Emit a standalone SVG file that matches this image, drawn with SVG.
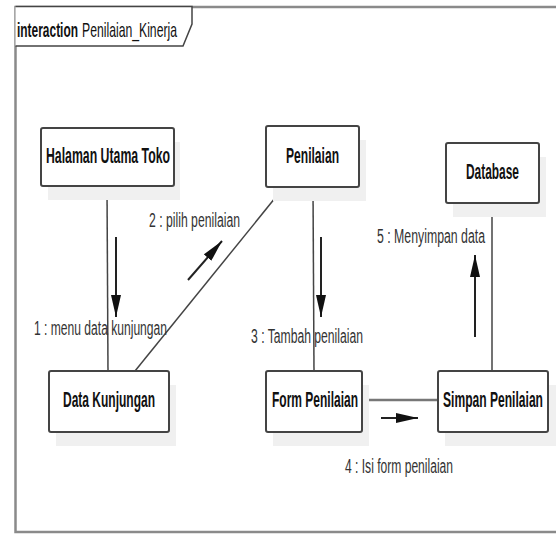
<svg xmlns="http://www.w3.org/2000/svg" width="556" height="534" viewBox="0 0 556 534">
<style>
.frame{fill:none;stroke:#8a8a8a;stroke-width:2.5}
.tab{fill:#fff;stroke:#444;stroke-width:1.5}
.box{fill:#fff;stroke:#444;stroke-width:2}
.shadow{fill:#f0f0f0;stroke:none}
.lbl{font-family:"Liberation Sans",Arial,sans-serif;font-size:22px;font-weight:bold;fill:#111;text-anchor:middle}
.msg{font-family:"Liberation Sans",Arial,sans-serif;font-size:20px;fill:#333}
.ttl{font-family:"Liberation Sans",Arial,sans-serif;font-size:21px;fill:#111}
.conn{stroke:#444;stroke-width:1.5;fill:none}
.arr{stroke:#222;stroke-width:2;fill:none;marker-end:url(#ah)}
</style>
<defs>
<marker id="ah" viewBox="0 0 22 10" refX="22" refY="5" markerWidth="22" markerHeight="10" orient="auto" markerUnits="userSpaceOnUse">
<path d="M0,0 L22,5 L0,10 z" fill="#111"/>
</marker>
</defs>
<rect width="556" height="534" fill="#fff"/>
<g id="frame">
<path class="frame" d="M556,7 L15.5,7 L15.5,532 L556,532"/>
<path class="tab" d="M15.5,6.5 L192,6.5 L192,24 L183,46 L15.5,46"/>
<text class="ttl" x="17" y="37" font-weight="bold" textLength="61" lengthAdjust="spacingAndGlyphs">interaction</text>
<text class="ttl" x="82" y="37" textLength="95" lengthAdjust="spacingAndGlyphs">Penilaian_Kinerja</text>
</g>
<g id="connectors">
<line class="conn" x1="107" y1="187" x2="108" y2="371"/>
<line class="conn" x1="284" y1="187" x2="135" y2="371"/>
<line class="conn" x1="313" y1="187" x2="314" y2="371"/>
<line class="conn" x1="492" y1="203" x2="492" y2="371"/>
<line x1="362" y1="400" x2="438" y2="400" stroke="#777" stroke-width="2.5"/>
<line class="arr" x1="116" y1="237" x2="116" y2="317"/>
<line class="arr" x1="188" y1="280" x2="222" y2="241"/>
<line class="arr" x1="321" y1="237" x2="321" y2="317"/>
<line class="arr" x1="475" y1="337" x2="475" y2="255"/>
<line class="arr" x1="381" y1="418" x2="418" y2="418"/>
<text class="msg" x="34" y="335" textLength="133" lengthAdjust="spacingAndGlyphs">1 : menu data kunjungan</text>
<text class="msg" x="149" y="227" textLength="91" lengthAdjust="spacingAndGlyphs">2 : pilih penilaian</text>
<text class="msg" x="251" y="343" textLength="112" lengthAdjust="spacingAndGlyphs">3 : Tambah penilaian</text>
<text class="msg" x="345" y="473" textLength="108" lengthAdjust="spacingAndGlyphs">4 : Isi form penilaian</text>
<text class="msg" x="377" y="243" textLength="108" lengthAdjust="spacingAndGlyphs">5 : Menyimpan data</text>
</g>
<g id="halaman">
<rect class="shadow" x="48" y="142" width="132" height="58"/>
<rect class="box" x="41" y="128" width="133" height="58" rx="2"/>
<text class="lbl" x="108" y="163" textLength="124" lengthAdjust="spacingAndGlyphs">Halaman Utama Toko</text>
</g>
<g id="penilaian">
<rect class="shadow" x="273" y="140" width="93" height="61"/>
<rect class="box" x="266" y="126" width="93" height="61" rx="2"/>
<text class="lbl" x="312.5" y="163" textLength="53" lengthAdjust="spacingAndGlyphs">Penilaian</text>
</g>
<g id="database">
<rect class="shadow" x="453" y="157" width="93" height="60"/>
<rect class="box" x="446" y="143" width="93" height="60" rx="2"/>
<text class="lbl" x="492.5" y="179" textLength="53" lengthAdjust="spacingAndGlyphs">Database</text>
</g>
<g id="datakunjungan">
<rect class="shadow" x="56" y="385" width="120" height="61"/>
<rect class="box" x="49" y="371" width="120" height="61" rx="2"/>
<text class="lbl" x="109" y="407" textLength="92" lengthAdjust="spacingAndGlyphs">Data Kunjungan</text>
</g>
<g id="formpenilaian">
<rect class="shadow" x="273" y="385" width="96" height="61"/>
<rect class="box" x="266" y="371" width="96" height="61" rx="2"/>
<text class="lbl" x="315" y="407" textLength="86" lengthAdjust="spacingAndGlyphs">Form Penilaian</text>
</g>
<g id="simpanpenilaian">
<rect class="shadow" x="445" y="385" width="111" height="61"/>
<rect class="box" x="438" y="371" width="110" height="61" rx="2"/>
<text class="lbl" x="493" y="407" textLength="100" lengthAdjust="spacingAndGlyphs">Simpan Penilaian</text>
</g>
</svg>
